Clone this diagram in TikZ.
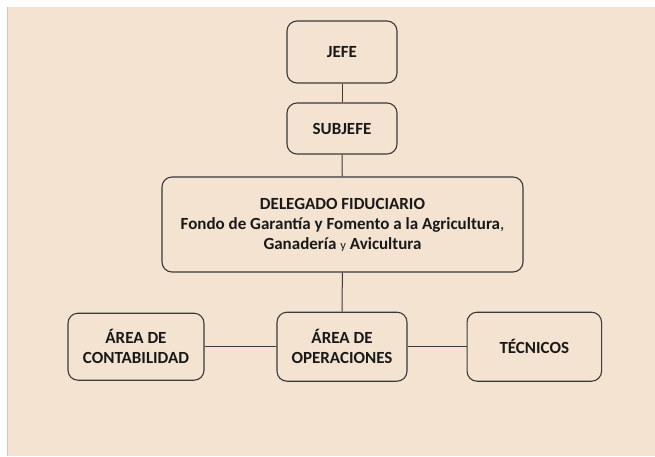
\documentclass[tikz,border=0pt]{standalone}
\usepackage{fontspec}
\setmainfont{Carlito}
\definecolor{bgbeige}{HTML}{F4E3D1}
\definecolor{edgegray}{HTML}{3A3A3A}
\definecolor{framegray}{HTML}{D0C8C0}
\begin{document}
\begin{tikzpicture}[x=1pt,y=-1pt,
  box/.style={draw=edgegray, line width=1.1pt, rounded corners=10pt, align=center,
    inner sep=0pt, font=\fontsize{17}{20}\selectfont\bfseries, text=black!90},
  link/.style={draw=edgegray, line width=1pt}]
\useasboundingbox (0,0) rectangle (655,456);
\fill[white] (0,0) rectangle (655,456);
\fill[bgbeige] (7,7) rectangle (655,456);
\draw[framegray, line width=0.8pt] (7,7) -- (7,456);
\node[box, minimum width=110pt, minimum height=62pt] (jefe) at (342,52) {JEFE};
\node[box, minimum width=110pt, minimum height=51pt] (sub) at (342,128.5) {SUBJEFE};
\node[box, minimum width=361pt, minimum height=95pt] (del) at (342.5,224.5)
  {DELEGADO FIDUCIARIO\\Fondo de Garantía y Fomento a la Agricultura{\mdseries ,}\\Ganadería {\mdseries\fontsize{12.5}{20}\selectfont y} Avicultura};
\node[box, minimum width=136pt, minimum height=67pt] (cont) at (136,346.7) {ÁREA DE\\CONTABILIDAD};
\node[box, minimum width=130pt, minimum height=69pt] (oper) at (342,346.7) {ÁREA DE\\OPERACIONES};
\node[box, minimum width=134.5pt, minimum height=69pt] (tec) at (534.3,346.7) {TÉCNICOS};
\draw[link] (jefe) -- (sub);
\draw[link] (sub) -- (del);
\draw[link] (del) -- (oper);
\draw[link] (cont) -- (oper);
\draw[link] (oper) -- (tec);
\end{tikzpicture}
\end{document}
